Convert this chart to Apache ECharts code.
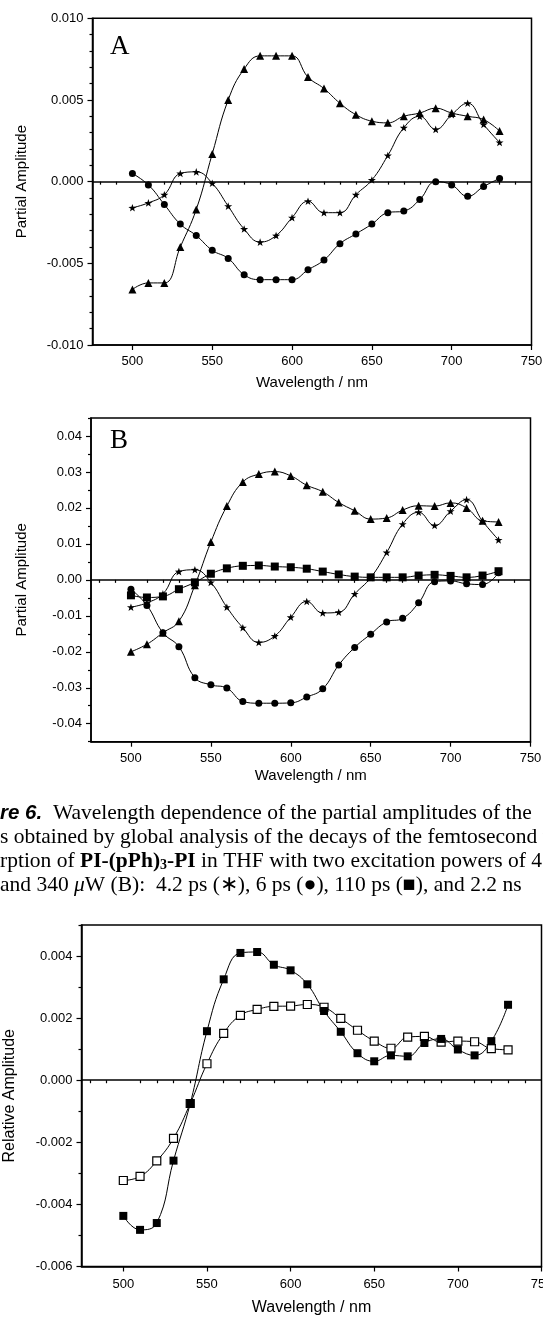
<!DOCTYPE html>
<html><head><meta charset="utf-8">
<script src="https://cdn.jsdelivr.net/npm/echarts@6/dist/echarts.min.js"></script>
<style>html,body{margin:0;padding:0;background:#fff}#c{width:543px;height:1317px}</style>
</head><body><div id="c"></div>
<script>
// ---- data ----
const wavelengths = [500,510,520,530,540,550,560,570,580,590,600,610,620,630,640,650,660,670,680,690,700,710,720,730];

// Panel A (three components)
const aStar     = [-0.0016,-0.0013,-0.0008,0.0005,0.0006,-0.0001,-0.0015,-0.0029,-0.0037,-0.0033,-0.0022,-0.0012,-0.0019,-0.0019,-0.0008,0.0001,0.0016,0.0033,0.0040,0.0032,0.0041,0.0048,0.0035,0.0024];
const aCircle   = [0.0005,-0.0002,-0.0014,-0.0026,-0.0033,-0.0042,-0.0047,-0.0057,-0.0060,-0.0060,-0.0060,-0.0054,-0.0048,-0.0038,-0.0032,-0.0026,-0.0019,-0.0018,-0.0011,0.0000,-0.0002,-0.0009,-0.0003,0.0002];
const aTriangle = [-0.0066,-0.0062,-0.0062,-0.0040,-0.0017,0.0017,0.0050,0.0069,0.0077,0.0077,0.0077,0.0064,0.0057,0.0048,0.0041,0.0037,0.0036,0.0040,0.0042,0.0045,0.0042,0.0040,0.0038,0.0031];

// Panel B (four components)
const bStar     = [-0.0076,-0.0064,-0.0039,0.0023,0.0028,-0.0007,-0.0076,-0.0133,-0.0174,-0.0156,-0.0104,-0.0060,-0.0092,-0.0090,-0.0039,0.0006,0.0076,0.0155,0.0188,0.0151,0.0191,0.0223,0.0163,0.0111];
const bCircle   = [-0.0026,-0.0071,-0.0147,-0.0186,-0.0272,-0.0292,-0.0301,-0.0338,-0.0343,-0.0343,-0.0342,-0.0326,-0.0303,-0.0237,-0.0188,-0.0151,-0.0117,-0.0107,-0.0064,-0.0005,-0.0003,-0.0011,-0.0013,0.0020];
const bSquare   = [-0.0043,-0.0049,-0.0046,-0.0026,-0.0007,0.0017,0.0032,0.0039,0.0040,0.0037,0.0035,0.0031,0.0023,0.0015,0.0009,0.0007,0.0007,0.0007,0.0012,0.0014,0.0011,0.0007,0.0012,0.0024];
const bTriangle = [-0.0200,-0.0179,-0.0147,-0.0115,-0.0015,0.0105,0.0205,0.0272,0.0294,0.0301,0.0289,0.0263,0.0245,0.0215,0.0192,0.0169,0.0172,0.0194,0.0206,0.0205,0.0214,0.0200,0.0164,0.0161];

// Panel C (relative amplitudes)
const cFilled = [-0.00437,-0.00482,-0.00460,-0.00259,-0.00075,0.00158,0.00325,0.00410,0.00413,0.00372,0.00354,0.00309,0.00223,0.00156,0.00087,0.00061,0.00080,0.00077,0.00120,0.00133,0.00099,0.00080,0.00126,0.00243];
const cOpen   = [-0.00323,-0.00310,-0.00260,-0.00187,-0.00075,0.00053,0.00151,0.00209,0.00228,0.00238,0.00239,0.00244,0.00235,0.00199,0.00161,0.00126,0.00103,0.00139,0.00141,0.00123,0.00126,0.00124,0.00102,0.00098];

// tick values
const xMajor = [500,550,600,650,700,750];
const xMinor = [480,490,510,520,530,540,560,570,580,590,610,620,630,640,660,670,680,690,710,720,730,740];
const aYMajor = [-0.010,-0.005,0.000,0.005,0.010];
const aYMinor = [-0.009,-0.008,-0.007,-0.006,-0.004,-0.003,-0.002,-0.001,0.001,0.002,0.003,0.004,0.006,0.007,0.008,0.009];
const bYMajor = [-0.04,-0.03,-0.02,-0.01,0.00,0.01,0.02,0.03,0.04];
const bYMinor = [-0.045,-0.035,-0.025,-0.015,-0.005,0.005,0.015,0.025,0.035,0.045];
const cYMajor = [-0.006,-0.004,-0.002,0.000,0.002,0.004];
const cYMinor = [-0.005,-0.003,-0.001,0.001,0.003,0.005];

// text
const yTitleAB = 'Partial Amplitude';
const yTitleC = 'Relative Amplitude';
const xTitle = 'Wavelength / nm';

// ---- build ----
const SANS = 'Liberation Sans, Arial, sans-serif';
const SERIF = 'Liberation Serif, Times New Roman, serif';
const STAR = 'path://M10 0 L12.35 6.76 L19.51 6.91 L13.8 11.24 L15.88 18.09 L10 14 L4.12 18.09 L6.2 11.24 L0.49 6.91 L7.65 6.76 Z';
const black = '#000';

const grids = [
  {left: 92.5, top: 18.3, width: 439, height: 326.7},
  {left: 91, top: 418, width: 439.5, height: 323.7},
  {left: 81.5, top: 925, width: 460, height: 341.5}
];
const yRanges = [[-0.010,0.010],[-0.045,0.045],[-0.006,0.005]];
const yMajors = [aYMajor,bYMajor,cYMajor];
const yMinors = [aYMinor,bYMinor,cYMinor];
const yDigits = [3,2,3];
const yNames = [yTitleAB,yTitleAB,yTitleC];
const yNameGap = [63,62,64];
const xNameGap = [30,27,33];
const xLabelMargin = [10,10,11];
const titleSize = [15,15,16];

const xAxes = [], yAxes = [];
grids.forEach((g,i)=>{
  xAxes.push({gridIndex:i,type:'value',min:475,max:750,position:'bottom',
    name:xTitle,nameLocation:'middle',nameGap:xNameGap[i],
    nameTextStyle:{fontFamily:SANS,fontSize:titleSize[i],color:black},
    axisLine:{show:true,onZero:false,lineStyle:{color:black,width:1.5}},
    axisTick:{show:true,inside:false,length:5,customValues:xMajor,lineStyle:{color:black,width:1.2}},
    axisLabel:{show:true,customValues:xMajor,margin:xLabelMargin[i],fontFamily:SANS,fontSize:13,color:black,hideOverlap:false},
    splitLine:{show:false}});
  xAxes.push({gridIndex:i,type:'value',min:475,max:750,position:'bottom',
    axisLine:{show:false},
    axisTick:{show:true,inside:false,length:3,customValues:xMinor,lineStyle:{color:black,width:1.2}},
    axisLabel:{show:false},splitLine:{show:false}});
  yAxes.push({gridIndex:i,type:'value',min:yRanges[i][0],max:yRanges[i][1],position:'left',
    name:yNames[i],nameLocation:'middle',nameGap:yNameGap[i],
    nameTextStyle:{fontFamily:SANS,fontSize:titleSize[i],color:black},
    axisLine:{show:true,onZero:false,lineStyle:{color:black,width:1.5}},
    axisTick:{show:true,inside:false,length:5,customValues:yMajors[i],lineStyle:{color:black,width:1.2}},
    axisLabel:{show:true,customValues:yMajors[i],margin:9,fontFamily:SANS,fontSize:13,color:black,
      formatter:(v)=>{const s=(Math.abs(v)<1e-12?0:v).toFixed(yDigits[i]);return s;}},
    splitLine:{show:false}});
  yAxes.push({gridIndex:i,type:'value',min:yRanges[i][0],max:yRanges[i][1],position:'left',
    axisLine:{show:false},
    axisTick:{show:true,inside:false,length:3,customValues:yMinors[i],lineStyle:{color:black,width:1.2}},
    axisLabel:{show:false},splitLine:{show:false}});
});

function pts(vals){return wavelengths.map((w,k)=>[w,vals[k]]);}
function mkSeries(gi, vals, symbol, size, fill, withZero){
  const s = {type:'line',xAxisIndex:gi*2,yAxisIndex:gi*2,data:pts(vals),smooth:0.45,
    symbol:symbol,symbolSize:size,symbolKeepAspect:true,showAllSymbol:true,
    lineStyle:{color:black,width:1},
    itemStyle:{color:fill,borderColor:black,borderWidth:fill==='#fff'?1.2:0},
    emphasis:{disabled:true},animation:false,z:3};
  if(withZero){
    s.markLine={silent:true,symbol:['none','none'],label:{show:false},animation:false,
      lineStyle:{color:black,width:1.5,type:'solid'},data:[{yAxis:0}],z:2};
  }
  return s;
}

const series = [
  mkSeries(0,aCircle,'circle',7,black,true),
  mkSeries(0,aStar,STAR,8,black,false),
  mkSeries(0,aTriangle,'triangle',8,black,false),
  mkSeries(1,bCircle,'circle',7,black,true),
  mkSeries(1,bSquare,'rect',8,black,false),
  mkSeries(1,bStar,STAR,8,black,false),
  mkSeries(1,bTriangle,'triangle',8,black,false),
  mkSeries(2,cOpen,'rect',8,'#fff',true),
  mkSeries(2,cFilled,'rect',8,black,false)
];

const capY = [813,837,861,885];
const capSize = 21.5;
const graphic = [
  {type:'text',left:110,top:33,style:{text:'A',fontFamily:SERIF,fontSize:27,fill:black}},
  {type:'text',left:110,top:427,style:{text:'B',fontFamily:SERIF,fontSize:27,fill:black}},
  {type:'text',x:0,y:capY[0],style:{text:'{bi|re 6.}  Wavelength dependence of the partial amplitudes of the',
    fontFamily:SERIF,fontSize:capSize,fill:black,verticalAlign:'middle',
    rich:{bi:{fontFamily:SANS,fontSize:capSize-1,fontWeight:'bold',fontStyle:'italic'}}}},
  {type:'text',x:0,y:capY[1],style:{text:'s obtained by global analysis of the decays of the femtosecond tra',
    fontFamily:SERIF,fontSize:capSize,fill:black,verticalAlign:'middle'}},
  {type:'text',x:0,y:capY[2],style:{text:'rption of {b|PI-(pPh)}{sub|3}{b|-PI} in THF with two excitation powers of 4',
    fontFamily:SERIF,fontSize:capSize,fill:black,verticalAlign:'middle',
    rich:{b:{fontFamily:SERIF,fontSize:capSize,fontWeight:'bold'},
          sub:{fontFamily:SERIF,fontSize:14,fontWeight:'bold',padding:[9,0,0,0]}}}},
  {type:'text',x:0,y:capY[3],style:{text:'and 340 {i|\u03bc}W (B):  4.2 ps (\u2217), 6 ps (\u25cf), 110 ps (\u25a0), and 2.2 ns',
    fontFamily:SERIF,fontSize:capSize,fill:black,verticalAlign:'middle',
    rich:{i:{fontFamily:SERIF,fontSize:capSize,fontStyle:'italic'}}}}
];

const chart = echarts.init(document.getElementById('c'),null,{renderer:'canvas',width:543,height:1317});
chart.setOption({
  animation:false,
  backgroundColor:'#fff',
  grid:grids.map(g=>Object.assign({show:true,borderColor:black,borderWidth:1.5,backgroundColor:'transparent',containLabel:false,outerBoundsMode:'none'},g)),
  xAxis:xAxes,
  yAxis:yAxes,
  series:series,
  graphic:graphic
});
</script></body></html>
